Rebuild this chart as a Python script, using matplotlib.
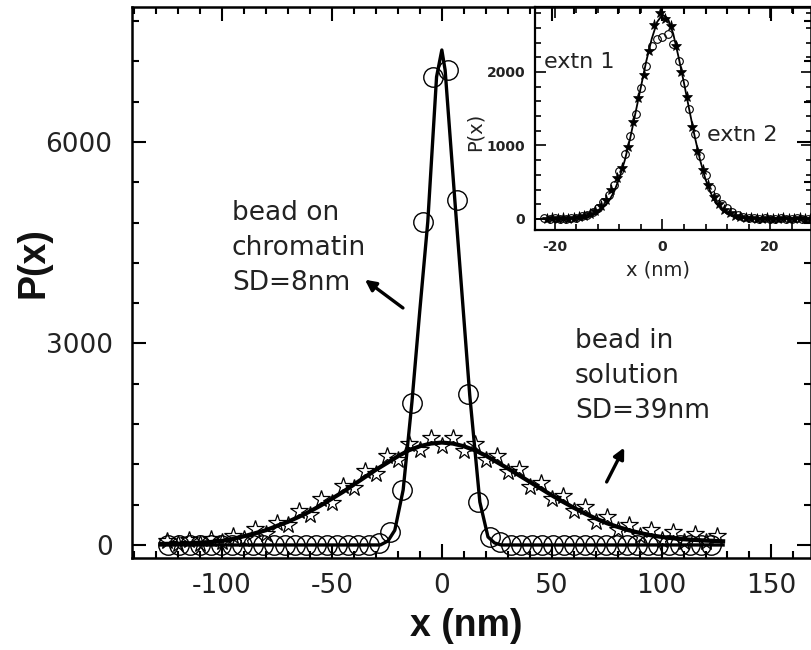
import matplotlib
matplotlib.use("Agg")
import matplotlib.pyplot as plt
from matplotlib.ticker import MultipleLocator

plt.rcParams["axes.unicode_minus"] = False

# ---------------- data ----------------
# bead on chromatin: histogram points (circles)
chrom_x = [-124.4, -119.6, -114.8, -110.0, -105.2, -100.4, -95.6, -90.8, -86.0, -81.2,
           -76.4, -71.6, -66.8, -62.0, -57.2, -52.4, -47.6, -42.8, -38.0, -33.2, -28.4,
           -23.6, -18.2, -13.6, -8.6, -4.0, 2.7, 6.8, 11.8, 16.4, 21.8,
           26.6, 31.4, 36.2, 41.0, 45.8, 50.6, 55.4, 60.2, 65.0, 69.8, 74.6, 79.4,
           84.2, 89.0, 93.8, 98.6, 103.4, 108.2, 113.0, 117.8, 122.6]
chrom_p = [0, 0, 0, 0, 0, 0, 0, 0, 0, 0,
           0, 0, 0, 0, 0, 0, 0, 0, 0, 0, 30,
           190, 820, 2120, 4810, 6970, 7070, 5140, 2250, 640, 120,
           40, 0, 0, 0, 0, 0, 0, 0, 0, 0, 0, 0,
           0, 0, 0, 0, 0, 0, 0, 0, 0]
# bead on chromatin: fitted curve
chrom_fit_x = [-128, -28, -24.5, -21.4, -17.6, -13.6, -10, -6.4, -2.4, 0, 1.5,
               5.9, 9.5, 12.7, 17.3, 21, 24, 27, 128]
chrom_fit_p = [0, 0, 60, 220, 820, 2130, 3500, 4810, 6970, 7370, 7070,
               5140, 3600, 2230, 640, 120, 30, 0, 0]

# bead in solution: histogram points (stars)
sol_x = [-125, -120, -115, -110, -105, -100, -95, -90, -85, -80, -75, -70, -65, -60,
         -55, -50, -45, -40, -35, -30, -25, -20, -15, -10, -5, 0, 5, 10, 15, 20, 25,
         30, 35, 40, 45, 50, 55, 60, 65, 70, 75, 80, 85, 90, 95, 100, 105, 110, 115,
         120, 125]
sol_p = [60, 10, 80, 20, 90, 40, 140, 90, 240, 170, 330, 300, 500, 450,
         680, 630, 880, 850, 1100, 1060, 1320, 1260, 1500, 1420, 1600, 1470, 1590,
         1400, 1500, 1260, 1330, 1080, 1130, 870, 920, 680, 730, 500, 560, 340, 420,
         220, 300, 130, 230, 80, 190, 50, 160, 40, 130]
# bead in solution: fitted curve
sol_fit_x = [-128, -120, -115, -110, -105, -100, -95, -90, -85, -80, -75, -70, -65,
             -60, -55, -50, -45, -40, -35, -30, -25, -20, -15, -10, -5, 0, 5, 10, 15,
             20, 25, 30, 35, 40, 45, 50, 55, 60, 65, 70, 75, 80, 85, 90, 95, 100, 105,
             110, 115, 120, 128]
sol_fit_p = [15, 20, 25, 35, 45, 60, 90, 130, 175, 220, 285, 345, 420,
             500, 590, 690, 790, 900, 1010, 1120, 1220, 1320, 1410, 1470, 1510, 1525,
             1510, 1470, 1410, 1330, 1235, 1140, 1040, 940, 840, 740, 645, 555, 470,
             395, 325, 270, 220, 180, 145, 120, 100, 85, 75, 65, 55]

# inset: extension 1 (circles)
ext1_x = [-22, -21, -20, -19, -18, -17, -16, -15, -14, -13, -12, -11, -10, -9, -8, -7,
          -6, -5, -4, -3, -2, -1, 0, 1, 2, 3, 4, 5, 6, 7, 8, 9, 10, 11, 12, 13, 14, 15,
          16, 17, 18, 19, 20, 21, 22, 23, 24, 25, 26, 27]
ext1_p = [10, 0, 15, 5, 0, 10, 20, 35, 55, 90, 150, 230, 330, 460, 650, 880,
          1130, 1430, 1780, 2080, 2350, 2450, 2470, 2520, 2380, 2150, 1850, 1500, 1150,
          850, 600, 420, 300, 210, 150, 90, 55, 30, 20, 10, 5, 10, 0, 5, 10, 0, 5, 10,
          0, 5]
# inset: extension 2 (stars)
ext2_x = [-21.5, -20.5, -19.5, -18.5, -17.5, -16.5, -15.5, -14.5, -13.5, -12.5, -11.5,
          -10.5, -9.5, -8.5, -7.5, -6.5, -5.5, -4.5, -3.5, -2.5, -1.5, -0.5, 0.5, 1.5,
          2.5, 3.5, 4.5, 5.5, 6.5, 7.5, 8.5, 9.5, 10.5, 11.5, 12.5, 13.5, 14.5, 15.5,
          16.5, 17.5, 18.5, 19.5, 20.5, 21.5, 22.5, 23.5, 24.5, 25.5, 26.5, 27.5]
ext2_p = [5, 10, 0, 15, 5, 10, 25, 40, 70, 110, 180, 260, 400, 560, 700, 980,
          1320, 1650, 1960, 2280, 2640, 2800, 2720, 2620, 2350, 2000, 1660, 1250, 930,
          660, 460, 300, 200, 120, 80, 45, 25, 15, 10, 5, 0, 10, 5, 0, 10, 5, 0, 10, 5, 0]
# inset: fitted curve
ins_fit_x = [-24, -16, -14, -12, -10, -9, -8, -7, -6, -5, -4, -3, -2, -1, 0, 1, 2, 3,
             4, 5, 6, 7, 8, 9, 10, 12, 14, 16, 28]
ins_fit_p = [0, 5, 20, 80, 240, 370, 560, 800, 1100, 1450, 1800, 2150, 2450, 2680,
             2780, 2730, 2520, 2200, 1850, 1480, 1120, 800, 540, 350, 210, 70, 20, 5, 0]

# ---------------- figure ----------------
W, H = 812, 650
fig = plt.figure(figsize=(W / 100, H / 100), dpi=100)
fig.patch.set_facecolor("white")

TICKFONT = "DejaVu Sans"
LABELFONT = "Liberation Sans"

ax = fig.add_axes([132 / W, 92 / H, 679 / W, 551 / H])
ax_in = fig.add_axes([535 / W, 420 / H, 277 / W, 223 / H])
ax.set_zorder(2)
ax.patch.set_visible(False)
ax_in.set_zorder(1)
ax_in.patch.set_facecolor("white")

# main plot
ax.plot(chrom_fit_x, chrom_fit_p, color="black", lw=2.4, zorder=3)
ax.plot(chrom_x, chrom_p, linestyle="none", marker="o", ms=14, mfc="none",
        mec="black", mew=1.0, zorder=4)
ax.plot(sol_fit_x, sol_fit_p, color="black", lw=3.0, zorder=3)
ax.plot(sol_x, sol_p, linestyle="none", marker="*", ms=13, mfc="none",
        mec="black", mew=0.9, zorder=4)

ax.set_xlim(-141, 168)
ax.set_ylim(-194, 8010)
ax.xaxis.set_major_locator(MultipleLocator(50))
ax.xaxis.set_minor_locator(MultipleLocator(10))
ax.yaxis.set_major_locator(MultipleLocator(3000))
ax.yaxis.set_minor_locator(MultipleLocator(600))
ax.tick_params(which="both", direction="in", top=True, right=True, width=1.5,
               colors="black", labelcolor="#222222")
ax.tick_params(which="major", length=10, labelsize=19)
ax.tick_params(which="minor", length=5)
ax.tick_params(axis="x", which="major", pad=11)
ax.tick_params(axis="y", which="major", pad=14)
for lab in ax.get_xticklabels() + ax.get_yticklabels():
    lab.set_family(TICKFONT)
for sp in ax.spines.values():
    sp.set_linewidth(1.8)

ax.set_xlabel("x (nm)", fontsize=27, fontweight="bold", family=LABELFONT,
              color="#111111")
ax.set_ylabel("P(x)", fontsize=27, fontweight="bold", family=LABELFONT,
              color="#111111")
ax.xaxis.set_label_coords((466 - 132) / 679, (558 - 626) / 551)
ax.xaxis.label.set_va("center")
ax.yaxis.set_label_coords((34 - 132) / 679, (558 - 263) / 551)
ax.yaxis.label.set_va("center")
ax.yaxis.label.set_ha("center")

ax.text(-95.5, 5137, "bead on\nchromatin\nSD=8nm", fontsize=19, family=TICKFONT,
        va="top", ha="left", linespacing=1.45, color="#222222")
ax.text(60.5, 3230, "bead in\nsolution\nSD=39nm", fontsize=19, family=TICKFONT,
        va="top", ha="left", linespacing=1.45, color="#222222")
ax.annotate("", xy=(-35, 3950), xytext=(-17.7, 3529),
            arrowprops=dict(arrowstyle="-|>", lw=2.4, color="black",
                            mutation_scale=16, shrinkA=0, shrinkB=0))
ax.annotate("", xy=(83, 1450), xytext=(75, 938),
            arrowprops=dict(arrowstyle="-|>", lw=2.4, color="black",
                            mutation_scale=16, shrinkA=0, shrinkB=0))

# inset
ax_in.plot(ins_fit_x, ins_fit_p, color="black", lw=1.3, zorder=3)
ax_in.plot(ext1_x, ext1_p, linestyle="none", marker="o", ms=5.5, mfc="none",
           mec="black", mew=0.8, zorder=4)
ax_in.plot(ext2_x, ext2_p, linestyle="none", marker="*", ms=8, mfc="black",
           mec="black", mew=0.5, zorder=4)
ax_in.set_xlim(-23.7, 27.8)
ax_in.set_ylim(-150, 2884)
ax_in.xaxis.set_major_locator(MultipleLocator(20))
ax_in.xaxis.set_minor_locator(MultipleLocator(4))
ax_in.yaxis.set_major_locator(MultipleLocator(1000))
ax_in.yaxis.set_minor_locator(MultipleLocator(200))
ax_in.tick_params(which="both", direction="in", top=True, right=True, width=1.2,
                  colors="black", labelcolor="#222222")
ax_in.tick_params(which="major", length=8, labelsize=10)
ax_in.tick_params(which="minor", length=4)
ax_in.tick_params(axis="x", which="major", pad=7)
ax_in.tick_params(axis="y", which="major", pad=7)
for lab in ax_in.get_xticklabels() + ax_in.get_yticklabels():
    lab.set_family(TICKFONT)
    lab.set_fontweight("bold")
for sp in ax_in.spines.values():
    sp.set_linewidth(1.6)
ax_in.set_xlabel("x (nm)", fontsize=14, family=TICKFONT, color="#222222")
ax_in.set_ylabel("P(x)", fontsize=14, family=TICKFONT, color="#222222")
ax_in.xaxis.set_label_coords((658 - 535) / 277, (230 - 270) / 223)
ax_in.xaxis.label.set_va("center")
ax_in.yaxis.set_label_coords((475 - 535) / 277, (230 - 132) / 223)
ax_in.yaxis.label.set_va("center")
ax_in.yaxis.label.set_ha("center")
ax_in.text(-22.0, 2135, "extn 1", fontsize=16, family=TICKFONT, va="center",
           ha="left", color="#222222")
ax_in.text(8.2, 1142, "extn 2", fontsize=16, family=TICKFONT, va="center",
           ha="left", color="#222222")

fig.savefig("out.png", dpi=100, facecolor="white")
